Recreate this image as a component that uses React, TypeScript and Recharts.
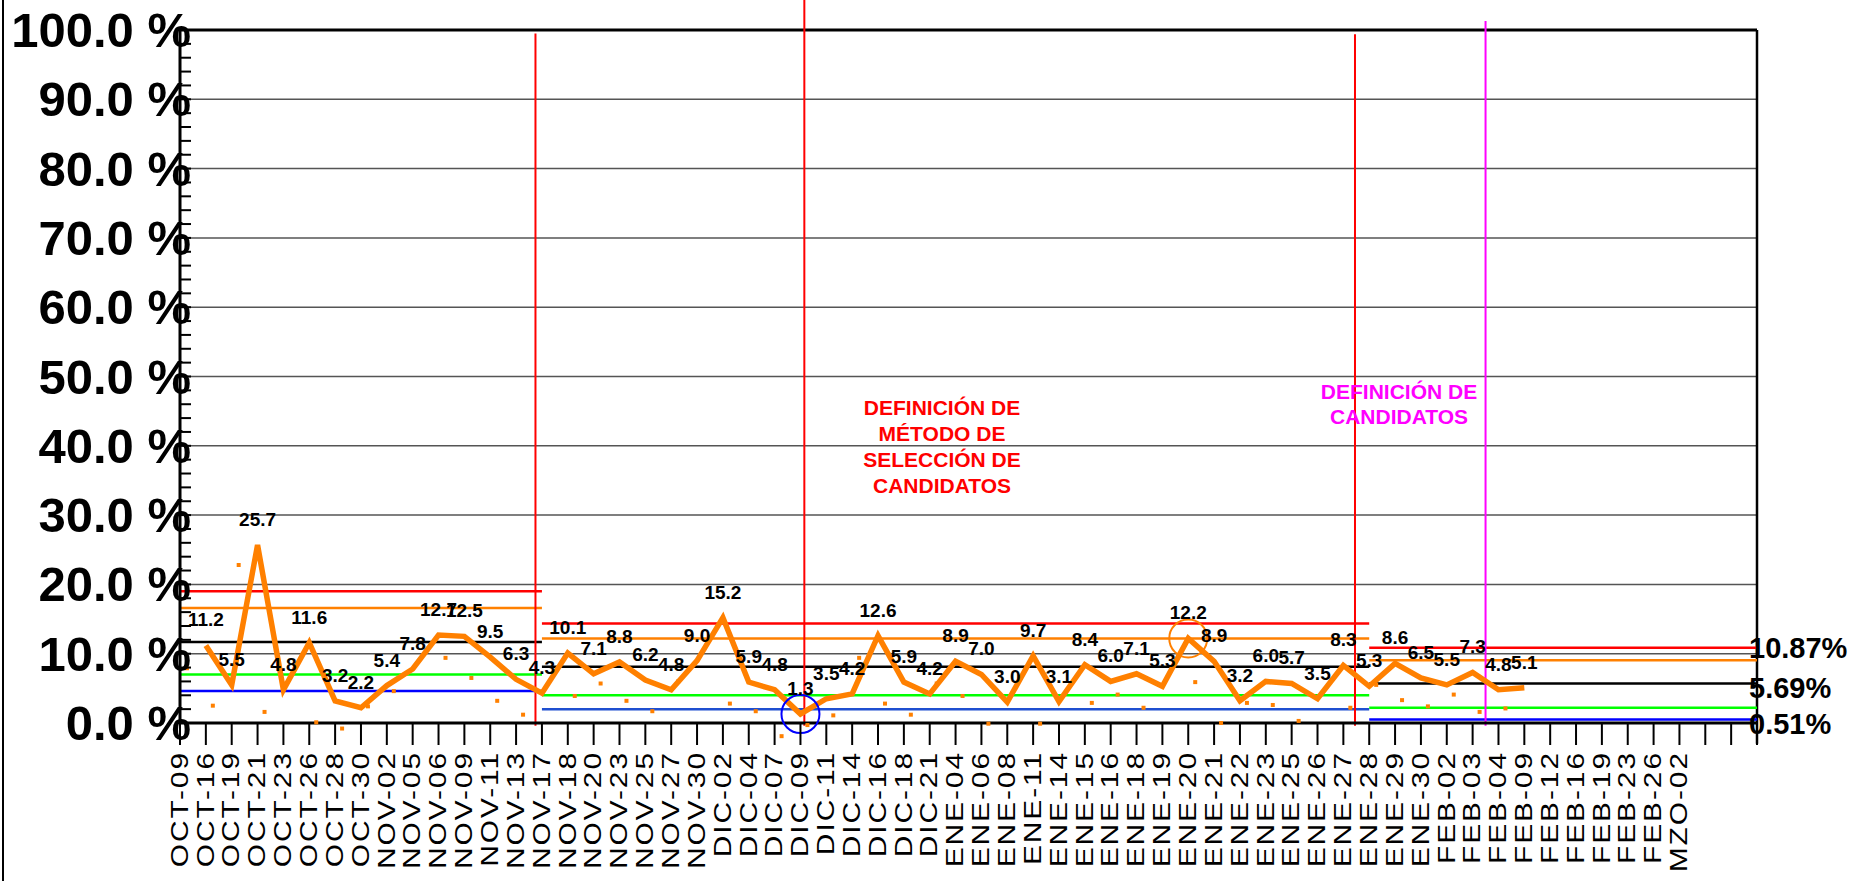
import {
  ComposedChart,
  Line,
  XAxis,
  YAxis,
  ReferenceLine,
  ReferenceDot,
  LabelList
} from 'recharts'

const FONT = '"Liberation Sans", Arial, Helvetica, sans-serif'

const CATEGORIES = [
  'OCT-09', 'OCT-16', 'OCT-19', 'OCT-21', 'OCT-23', 'OCT-26', 'OCT-28', 'OCT-30',
  'NOV-02', 'NOV-05', 'NOV-06', 'NOV-09', 'NOV-11', 'NOV-13', 'NOV-17', 'NOV-18',
  'NOV-20', 'NOV-23', 'NOV-25', 'NOV-27', 'NOV-30',
  'DIC-02', 'DIC-04', 'DIC-07', 'DIC-09', 'DIC-11', 'DIC-14', 'DIC-16', 'DIC-18', 'DIC-21',
  'ENE-04', 'ENE-06', 'ENE-08', 'ENE-11', 'ENE-14', 'ENE-15', 'ENE-16', 'ENE-18', 'ENE-19',
  'ENE-20', 'ENE-21', 'ENE-22', 'ENE-23', 'ENE-25', 'ENE-26', 'ENE-27', 'ENE-28', 'ENE-29', 'ENE-30',
  'FEB-02', 'FEB-03', 'FEB-04', 'FEB-09', 'FEB-12', 'FEB-16', 'FEB-19', 'FEB-23', 'FEB-26', 'MZO-02'
]

// % por fecha (línea naranja)
const RATE: (number | null)[] = [
  null, 11.2, 5.5, 25.7, 4.8, 11.6, 3.2, 2.2,
  5.4, 7.8, 12.7, 12.5, 9.5, 6.3, 4.3, 10.1,
  7.1, 8.8, 6.2, 4.8, 9.0,
  15.2, 5.9, 4.8, 1.3, 3.5, 4.2, 12.6, 5.9, 4.2,
  8.9, 7.0, 3.0, 9.7, 3.1, 8.4, 6.0, 7.1, 5.3,
  12.2, 8.9, 3.2, 6.0, 5.7, 3.5, 8.3, 5.3, 8.6, 6.5,
  5.5, 7.3, 4.8, 5.1, null, null, null, null, null, null
]

// puntos pequeños (segunda serie)
const SMALL: (number | null)[] = [
  7.9, 2.5, 22.8, 1.6, null, 0.1, -0.8, 2.4,
  4.6, null, 9.4, 6.5, 3.2, 1.2, null, 3.9,
  5.7, 3.2, 1.7, 6.0, null,
  2.8, 1.7, -1.9, -0.3, 1.1, 9.4, 2.8, 1.2, 5.7,
  3.9, -0.1, null, -0.1, null, 2.9, 4.1, 2.2, null,
  5.9, 0.0, 2.9, 2.6, 0.3, null, 2.2, 5.5, 3.3, 2.4,
  4.1, 1.6, 2.1, null, null, null, null, null, null, null
]

// límites por etapa
const SEG_START = [0, 14, 46]
const SEG_END = [14, 46, 61]
const UCL = [19.0, 14.35, 10.87]
const UWL = [16.6, 12.2, 9.06]
const MEAN = [11.7, 8.1, 5.69]
const LWL = [7.0, 4.0, 2.2]
const LCL = [4.6, 2.0, 0.51]

const PHASE_LINES = [
  { x: 13.75, top: 99.5, color: '#FF0000' },
  { x: 24.15, top: 104.5, color: '#FF0000' },
  { x: 45.45, top: 99.4, color: '#FF0000' },
  { x: 50.5, top: 101.3, color: '#FF00FF' }
]

const Y_TICKS = [
  0, 2, 4, 6, 8, 10, 12, 14, 16, 18, 20, 22, 24, 26, 28, 30, 32, 34, 36, 38, 40,
  42, 44, 46, 48, 50, 52, 54, 56, 58, 60, 62, 64, 66, 68, 70, 72, 74, 76, 78, 80,
  82, 84, 86, 88, 90, 92, 94, 96, 98, 100
]
const GRID_VALUES = [10, 20, 30, 40, 50, 60, 70, 80, 90]
const X_TICKS = [...CATEGORIES.map((_, i) => i), 59, 60, 61]

const AXIS_X = 180
const AXIS_Y = 723
const SQUARE_SHIFT = 0.27

const lineData = RATE.map((v, i) => ({ x: i, v })).filter(d => d.v !== null)

const limitRows = [
  { vals: UCL, colors: ['#FF0000', '#FF0000', '#FF0000'] },
  { vals: UWL, colors: ['#FF8000', '#FF8000', '#FF8000'] },
  { vals: MEAN, colors: ['#000000', '#000000', '#000000'] },
  { vals: LWL, colors: ['#00FF00', '#00FF00', '#00FF00'] },
  { vals: LCL, colors: ['#0000FF', '#1F4FD0', '#0000FF'] }
]

function YTick(props: any) {
  const { y, payload } = props
  const v = payload.value as number
  return (
    <g>
      <line x1={AXIS_X} x2={AXIS_X + 11} y1={y} y2={y} stroke="#000" strokeWidth={2} />
      {v % 10 === 0 && (
        <text
          x={191}
          y={y}
          textAnchor="end"
          dominantBaseline="central"
          fontFamily={FONT}
          fontWeight="bold"
          fontSize={49}
          fill="#000"
        >
          {`${v.toFixed(1)} %`}
        </text>
      )}
    </g>
  )
}

function XTick(props: any) {
  const { x, payload } = props
  const label = CATEGORIES[payload.value]
  return (
    <g>
      <line x1={x} x2={x} y1={AXIS_Y} y2={AXIS_Y + 22} stroke="#000" strokeWidth={2} />
      {label && (
        <text
          transform={`translate(${x},751) rotate(-90) scale(1.3,1)`}
          textAnchor="end"
          dominantBaseline="central"
          fontFamily={FONT}
          fontSize={23}
          letterSpacing={1.5}
          fill="#000"
        >
          {label}
        </text>
      )}
    </g>
  )
}

const renderPointLabel = (p: any) => {
  const { x, y, value } = p
  if (value === null || value === undefined) return null
  return (
    <text
      x={x}
      y={y - 19}
      textAnchor="middle"
      fontFamily={FONT}
      fontWeight="bold"
      fontSize={19}
      fill="#000"
    >
      {Number(value).toFixed(1)}
    </text>
  )
}

const rightLabel = (text: string, dy: number) => (p: any) => (
  <text
    x={p.cx - 8}
    y={p.cy + dy}
    dominantBaseline="central"
    fontFamily={FONT}
    fontWeight="bold"
    fontSize={29}
    fill="#000"
  >
    {text}
  </text>
)

export default function App() {
  const last = SEG_START.length - 1
  return (
    <div style={{ position: 'absolute', left: 0, top: 0, width: 1854, height: 881, background: '#fff', overflow: 'hidden' }}>
      <div style={{ position: 'absolute', left: 2, top: 0, width: 2, height: 881, background: '#000' }} />
      <ComposedChart width={1854} height={881} margin={{ top: 30, right: 97, bottom: 8, left: 0 }}>
        <XAxis
          type="number"
          dataKey="x"
          domain={[0, 61]}
          allowDataOverflow
          ticks={X_TICKS}
          interval={0}
          tick={<XTick />}
          tickLine={false}
          axisLine={{ stroke: '#000', strokeWidth: 3 }}
          height={150}
        />
        <YAxis
          type="number"
          domain={[0, 100]}
          allowDataOverflow
          ticks={Y_TICKS}
          interval={0}
          tick={<YTick />}
          tickLine={false}
          axisLine={{ stroke: '#000', strokeWidth: 3 }}
          width={180}
        />

        {GRID_VALUES.map(g => (
          <ReferenceLine key={`g${g}`} y={g} stroke="#555" strokeWidth={1.5} />
        ))}
        <ReferenceLine y={100} stroke="#000" strokeWidth={3} />
        <ReferenceLine
          segment={[{ x: 61, y: 100 }, { x: 61, y: -3 }]}
          stroke="#000"
          strokeWidth={2.5}
          ifOverflow="visible"
        />

        {limitRows.map((row, r) =>
          SEG_START.map((s, k) => (
            <ReferenceLine
              key={`lim${r}-${k}`}
              segment={[{ x: s, y: row.vals[k] }, { x: SEG_END[k], y: row.vals[k] }]}
              stroke={row.colors[k]}
              strokeWidth={2.5}
              ifOverflow="visible"
            />
          ))
        )}

        {PHASE_LINES.map((p, k) => (
          <ReferenceLine
            key={`ph${k}`}
            segment={[{ x: p.x, y: p.top }, { x: p.x, y: -0.4 }]}
            stroke={p.color}
            strokeWidth={2}
            ifOverflow="visible"
          />
        ))}

        {SMALL.map((v, i) =>
          v === null ? null : (
            <ReferenceDot
              key={`sq${i}`}
              x={i + SQUARE_SHIFT}
              y={v}
              r={2}
              ifOverflow="visible"
              shape={(p: any) => (
                <rect x={p.cx - 2} y={p.cy - 2} width={4} height={4} fill="#FF8000" />
              )}
            />
          )
        )}

        <ReferenceDot x={24} y={RATE[24] as number} r={19} fill="none" stroke="#0000FF" strokeWidth={2} ifOverflow="visible" />
        <ReferenceDot x={39} y={RATE[39] as number} r={19} fill="none" stroke="#FF8000" strokeWidth={2} ifOverflow="visible" />

        <ReferenceDot x={61} y={UCL[last]} r={1} ifOverflow="visible" shape={rightLabel(`${UCL[last].toFixed(2)}%`, 0)} />
        <ReferenceDot x={61} y={MEAN[last]} r={1} ifOverflow="visible" shape={rightLabel(`${MEAN[last].toFixed(2)}%`, 4)} />
        <ReferenceDot x={61} y={LCL[last]} r={1} ifOverflow="visible" shape={rightLabel(`${LCL[last].toFixed(2)}%`, 5)} />

        <Line
          data={lineData}
          dataKey="v"
          type="linear"
          stroke="#FF8000"
          strokeWidth={5.5}
          strokeLinejoin="miter"
          dot={false}
          isAnimationActive={false}
        >
          <LabelList dataKey="v" content={renderPointLabel} />
        </Line>
      </ComposedChart>

      <div
        style={{
          position: 'absolute',
          left: 792,
          top: 395,
          width: 300,
          textAlign: 'center',
          fontFamily: FONT,
          fontWeight: 'bold',
          fontSize: 21,
          lineHeight: '26px',
          color: '#FF0000'
        }}
      >
        DEFINICIÓN DE<br />MÉTODO DE<br />SELECCIÓN DE<br />CANDIDATOS
      </div>
      <div
        style={{
          position: 'absolute',
          left: 1249,
          top: 379,
          width: 300,
          textAlign: 'center',
          fontFamily: FONT,
          fontWeight: 'bold',
          fontSize: 21,
          lineHeight: '25px',
          color: '#FF00FF'
        }}
      >
        DEFINICIÓN DE<br />CANDIDATOS
      </div>
    </div>
  )
}
